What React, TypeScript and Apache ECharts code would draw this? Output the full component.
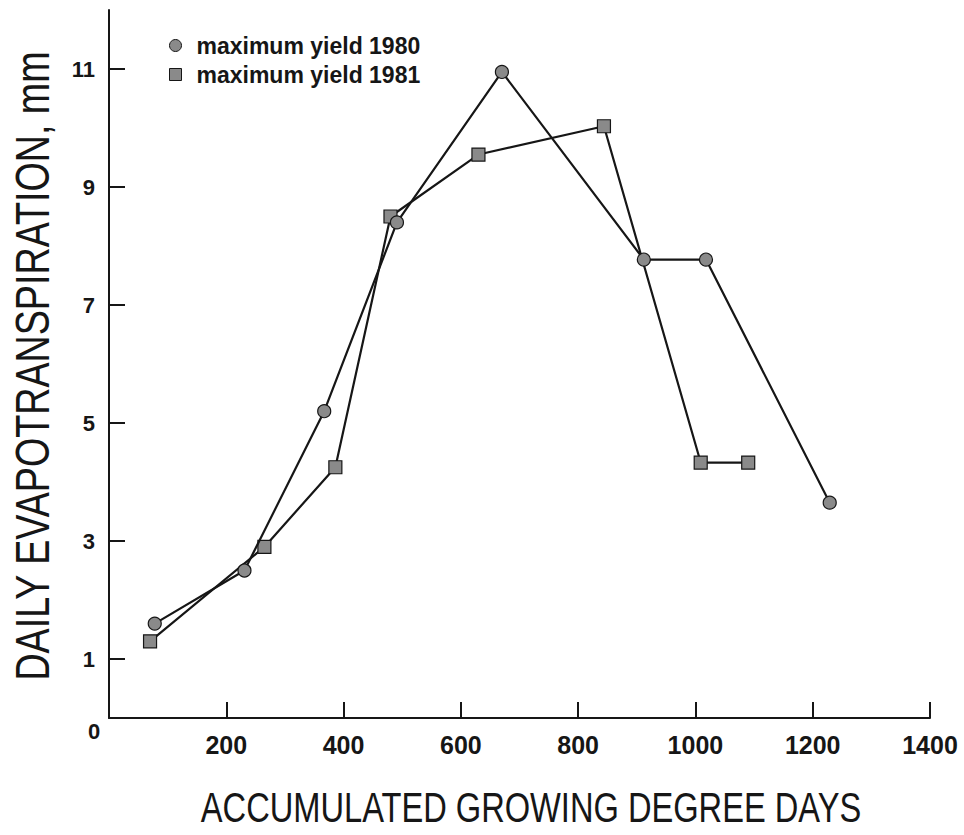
import React, { useEffect, useRef } from "react";
import * as echarts from "echarts";

const series1980Name = "maximum yield 1980";
const series1981Name = "maximum yield 1981";
const gdd1980 = [78, 231, 367, 491, 670, 912, 1018, 1229];
const et1980 = [1.6, 2.5, 5.2, 8.4, 10.95, 7.77, 7.77, 3.65];
const gdd1981 = [70, 265, 386, 480, 630, 844, 1009, 1090];
const et1981 = [1.3, 2.9, 4.25, 8.5, 9.55, 10.03, 4.33, 4.33];
const xTickValues = [200, 400, 600, 800, 1000, 1200, 1400];
const yTickValues = [1, 3, 5, 7, 9, 11];
const xTitle = "ACCUMULATED GROWING DEGREE DAYS";
const yTitle = "DAILY EVAPOTRANSPIRATION, mm";

const INK = "#161616";
const FILL = "#8a8a8a";
const LABEL_FONT = "'Liberation Sans', Arial, sans-serif";

export default function App() {
  const ref = useRef<HTMLDivElement>(null);

  useEffect(() => {
    document.body.style.margin = "0";
    if (!ref.current) return;
    const chart = echarts.init(ref.current, null, { renderer: "svg" });
    const pairs = (xs: number[], ys: number[]) => xs.map((x, i) => [x, ys[i]]);

    chart.setOption({
      animation: false,
      backgroundColor: "#ffffff",
      grid: {
        left: 109,
        right: 34,
        top: 10,
        bottom: 117,
        containLabel: false,
        outerBoundsMode: "none",
      },
      legend: {
        orient: "vertical",
        left: 164,
        top: 29,
        itemWidth: 12,
        itemHeight: 12,
        itemGap: 6,
        textStyle: {
          fontFamily: LABEL_FONT,
          fontSize: 23,
          fontWeight: "bold",
          color: INK,
          padding: [0, 0, 0, 10],
        },
        data: [
          { name: series1980Name, icon: "circle", itemStyle: { color: FILL, borderColor: INK, borderWidth: 1 } },
          { name: series1981Name, icon: "rect", itemStyle: { color: FILL, borderColor: INK, borderWidth: 1 } },
        ],
      },
      xAxis: {
        type: "value",
        min: 0,
        max: 1400,
        interval: 200,
        splitLine: { show: false },
        axisLine: { show: true, lineStyle: { color: INK, width: 2 } },
        axisTick: {
          show: true,
          inside: true,
          length: 16,
          customValues: xTickValues,
          lineStyle: { color: INK, width: 2 },
        },
        axisLabel: {
          customValues: xTickValues,
          formatter: (v: number) => String(v),
          margin: 14,
          fontFamily: LABEL_FONT,
          fontSize: 25,
          fontWeight: "bold",
          color: INK,
        },
      },
      yAxis: {
        type: "value",
        min: 0,
        max: 12,
        interval: 1,
        splitLine: { show: false },
        axisLine: { show: true, lineStyle: { color: INK, width: 2 } },
        axisTick: {
          show: true,
          inside: true,
          length: 16,
          customValues: yTickValues,
          lineStyle: { color: INK, width: 2 },
        },
        axisLabel: {
          customValues: yTickValues,
          formatter: (v: number) => String(v),
          margin: 14,
          fontFamily: LABEL_FONT,
          fontSize: 22,
          fontWeight: "bold",
          color: INK,
        },
      },
      series: [
        {
          name: series1981Name,
          type: "line",
          data: pairs(gdd1981, et1981),
          symbol: "rect",
          symbolSize: 13,
          lineStyle: { color: INK, width: 2.2 },
          itemStyle: { color: FILL, borderColor: INK, borderWidth: 1.2 },
          z: 2,
        },
        {
          name: series1980Name,
          type: "line",
          data: pairs(gdd1980, et1980),
          symbol: "circle",
          symbolSize: 13,
          lineStyle: { color: INK, width: 2.2 },
          itemStyle: { color: FILL, borderColor: INK, borderWidth: 1.2 },
          z: 3,
        },
      ],
      graphic: [
        {
          type: "text",
          left: 88,
          top: 720,
          style: {
            text: "0",
            fontFamily: LABEL_FONT,
            fontSize: 22,
            fontWeight: "bold",
            fill: INK,
          },
        },
        {
          type: "text",
          x: 531,
          y: 807,
          scaleX: 0.777,
          style: {
            text: xTitle,
            fontFamily: LABEL_FONT,
            fontSize: 42,
            fill: INK,
            align: "center",
            verticalAlign: "middle",
          },
        },
        {
          type: "text",
          x: 32,
          y: 366,
          rotation: Math.PI / 2,
          scaleX: 0.785,
          style: {
            text: yTitle,
            fontFamily: LABEL_FONT,
            fontSize: 48,
            fill: INK,
            align: "center",
            verticalAlign: "middle",
          },
        },
      ],
    });

    return () => chart.dispose();
  }, []);

  return (
    <div
      ref={ref}
      style={{ position: "absolute", left: 0, top: 0, width: 964, height: 835 }}
    />
  );
}
